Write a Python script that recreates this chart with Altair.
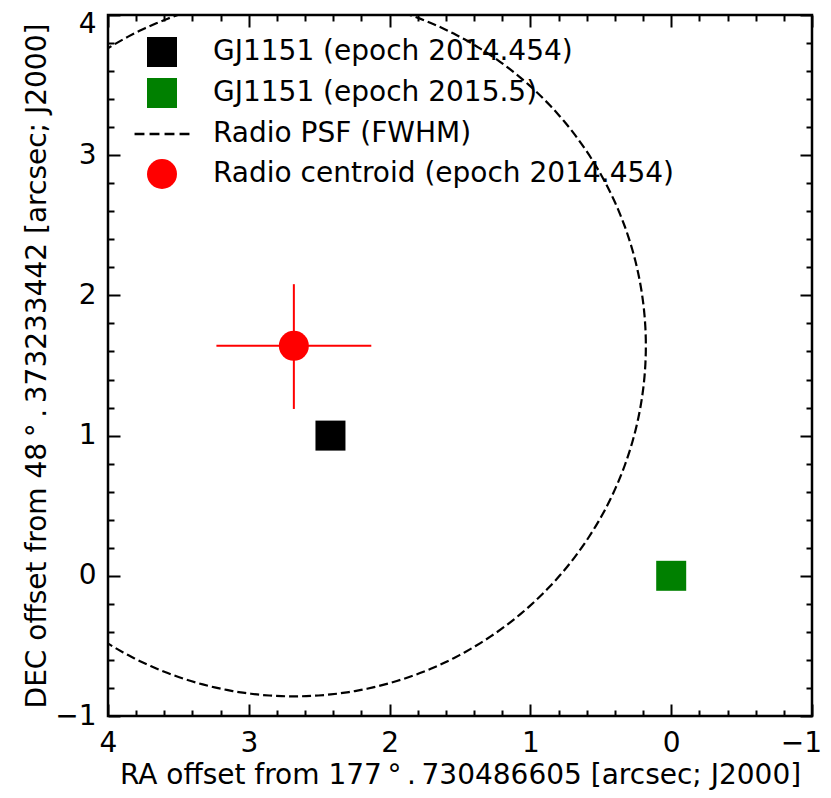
import altair as alt
import pandas as pd

# ---- data ----
point_labels = ["GJ1151 (epoch 2014.454)", "GJ1151 (epoch 2015.5)", "Radio centroid (epoch 2014.454)"]
point_ra = [2.42, 0.0, 2.68]
point_dec = [1.0, 0.0, 1.64]

legend_labels = ["GJ1151 (epoch 2014.454)", "GJ1151 (epoch 2015.5)",
                 "Radio PSF (FWHM)", "Radio centroid (epoch 2014.454)"]
legend_colors = ["black", "green", "black", "red"]
dash_symbol = ("M-1.83,-0.08H-1.17V0.08H-1.83Z M-0.83,-0.08H-0.17V0.08H-0.83Z "
               "M0.17,-0.08H0.83V0.08H0.17Z M1.17,-0.08H1.83V0.08H1.17Z")
legend_shapes = ["square", "square", dash_symbol, "circle"]

centroid_ra = [2.68]
centroid_dec = [1.64]
centroid_ra_lo = [2.13]
centroid_ra_hi = [3.23]
centroid_dec_lo = [1.19]
centroid_dec_hi = [2.08]

psf_center_ra = 2.68
psf_center_dec = 1.64
psf_radius = 2.5

major_ticks = [-1, 0, 1, 2, 3, 4]
minor_ticks = [round(-1 + 0.2 * i, 1) for i in range(26) if i % 5 != 0]

x_title = "RA offset from 177\u2009°\u2009.\u2009730486605 [arcsec; J2000]"
y_title = "DEC offset from 48\u2009°\u2009.\u2009373233442 [arcsec; J2000]"

FONT = "DejaVu Sans"
TICK_FS = 28
TITLE_FS = 28
MAJ = 12
MIN = 6

xscale = alt.Scale(domain=[-1, 4], reverse=True, nice=False, zero=False)
yscale = alt.Scale(domain=[-1, 4], nice=False, zero=False)


def axis(orient, values, size, labels=False, title=None, pad=12, tpad=10, loff=None):
    kw = dict(orient=orient, values=values, tickSize=size, offset=-size,
              domain=False, grid=False, labels=labels, tickWidth=2,
              tickColor="black", tickOpacity=1, ticks=True, zindex=2)
    if title:
        kw.update(title=title, titleFont=FONT, titleFontSize=TITLE_FS,
                  titleFontWeight="normal", titleColor="black", titlePadding=tpad)
    else:
        kw.update(title=None)
    if labels:
        kw.update(labelFont=FONT, labelFontSize=TICK_FS, labelColor="black",
                  labelPadding=pad, labelFlush=False, labelOverlap=False,
                  labelBound=False, format="d")
        if loff is not None:
            kw.update(labelOffset=loff)
    return alt.Axis(**kw)


# dashed PSF circle
circle = alt.Chart(alt.sequence(0, 361, 1, as_="deg")).transform_calculate(
    ra=f"{psf_center_ra} + {psf_radius} * cos(datum.deg * PI / 180)",
    dec=f"{psf_center_dec} + {psf_radius} * sin(datum.deg * PI / 180)",
).mark_line(clip=True, color="black", strokeWidth=2.2, strokeDash=[9, 4]).encode(
    x=alt.X("ra:Q", scale=xscale, axis=axis("bottom", major_ticks, MAJ, True, x_title, pad=13, tpad=4,
                                            loff={"expr": "datum.value == -1 ? -11 : 0"})),
    y=alt.Y("dec:Q", scale=yscale, axis=axis("left", major_ticks, MAJ, True, y_title, pad=12, tpad=3,
                                             loff={"expr": "datum.value == 4 ? 9 : 0"})),
    order="deg:Q",
)

err_df = pd.DataFrame({"ra": centroid_ra, "dec": centroid_dec,
                       "ra_lo": centroid_ra_lo, "ra_hi": centroid_ra_hi,
                       "dec_lo": centroid_dec_lo, "dec_hi": centroid_dec_hi})

err_h = alt.Chart(err_df).mark_rule(color="red", strokeWidth=2).encode(
    x=alt.X("ra_lo:Q", scale=xscale, axis=axis("bottom", minor_ticks, MIN)),
    x2="ra_hi:Q",
    y=alt.Y("dec:Q", scale=yscale, axis=axis("left", minor_ticks, MIN)),
)

err_v = alt.Chart(err_df).mark_rule(color="red", strokeWidth=2).encode(
    x=alt.X("ra:Q", scale=xscale, axis=axis("top", major_ticks, MAJ)),
    y=alt.Y("dec_lo:Q", scale=yscale, axis=axis("right", major_ticks, MAJ)),
    y2="dec_hi:Q",
)

pts_df = pd.DataFrame({"label": point_labels, "ra": point_ra, "dec": point_dec})

leg = dict(title=None, orient="none", legendX=39, legendY=22,
           symbolSize=900, symbolStrokeWidth=0, symbolOpacity=1,
           labelFont=FONT, labelFontSize=TICK_FS, labelColor="black",
           labelOffset=36, rowPadding=11, padding=0, labelLimit=700)

points = alt.Chart(pts_df).mark_point(filled=True, size=900, opacity=1, strokeWidth=0).encode(
    x=alt.X("ra:Q", scale=xscale, axis=axis("top", minor_ticks, MIN)),
    y=alt.Y("dec:Q", scale=yscale, axis=axis("right", minor_ticks, MIN)),
    color=alt.Color("label:N", scale=alt.Scale(domain=legend_labels, range=legend_colors),
                    legend=alt.Legend(**leg)),
    shape=alt.Shape("label:N", scale=alt.Scale(domain=legend_labels, range=legend_shapes),
                    legend=alt.Legend(**leg)),
)

chart = alt.layer(circle, err_h, err_v, points).resolve_axis(
    x="independent", y="independent"
).properties(
    width=704, height=701,
    padding={"left": 100, "top": 7, "right": 11, "bottom": 74},
    autosize=alt.AutoSizeParams(type="none"),
).configure_view(stroke="black", strokeWidth=2.5)

chart.save("out.html", embed_options={"renderer": "svg", "actions": False})
